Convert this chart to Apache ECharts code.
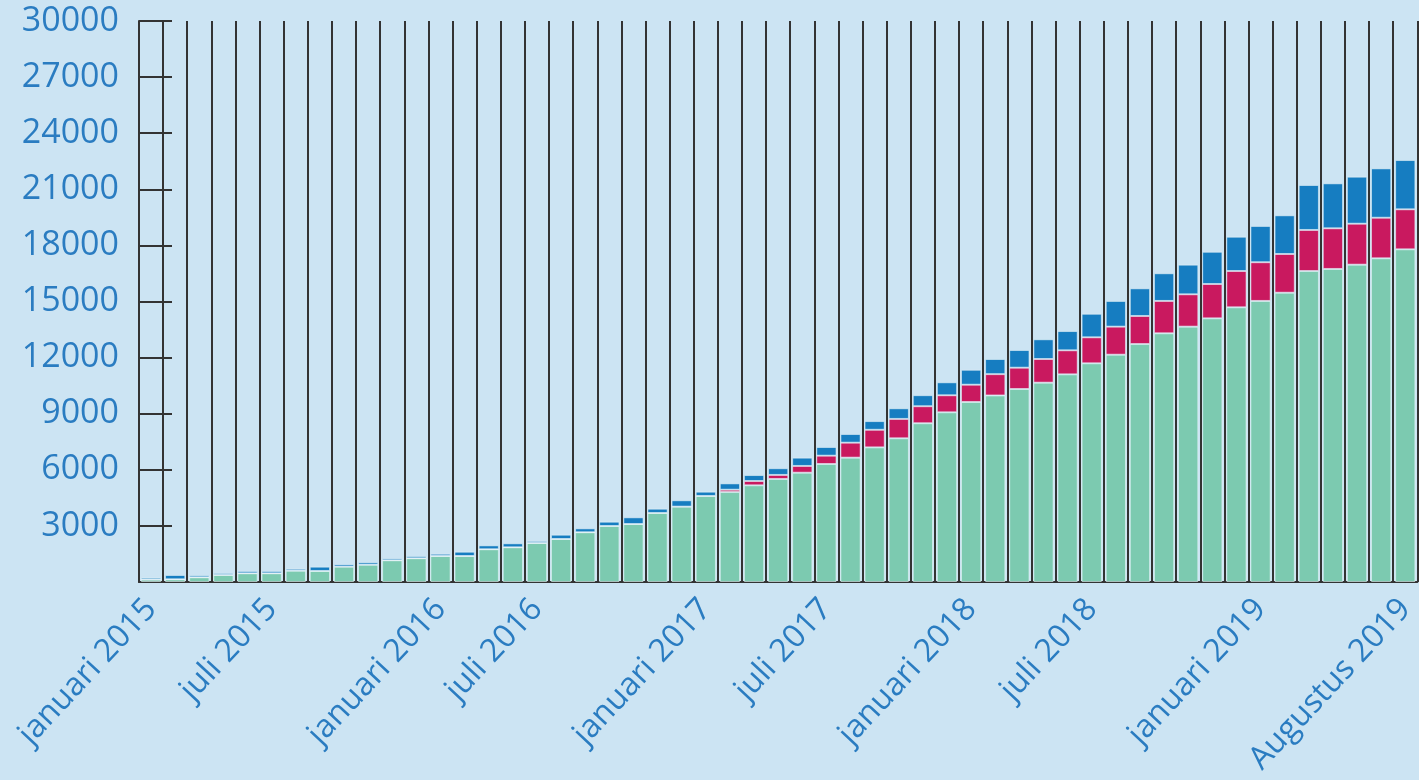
<!DOCTYPE html>
<html>
<head>
<meta charset="utf-8">
<script src="https://cdn.jsdelivr.net/npm/echarts@6/dist/echarts.min.js"></script>
<style>
  html, body { margin: 0; padding: 0; background: #cce4f3; }
  #chart { width: 1419px; height: 780px; }
</style>
</head>
<body>
<div id="chart"></div>
<script>
// 53 monthly bars (januari 2015 ... Augustus 2019)
const categories = ['1','2','3','4','5','6','7','8','9','10','11','12','13','14','15','16','17','18','19','20',
  '21','22','23','24','25','26','27','28','29','30','31','32','33','34','35','36','37','38','39','40',
  '41','42','43','44','45','46','47','48','49','50','51','52','53'];

// tick labels shown on the category axis
const tickIndex = [0, 5, 12, 16, 23, 28, 34, 39, 46, 52];
const tickText = ['januari 2015', 'juli 2015', 'januari 2016', 'juli 2016', 'januari 2017',
  'juli 2017', 'januari 2018', 'juli 2018', 'januari 2019', 'Augustus 2019'];

// series values (stacked, bottom to top)
const greenValues = [130, 145, 250, 375, 465, 465, 605, 590, 820, 925,
  1160, 1270, 1390, 1390, 1750, 1855, 2085, 2300, 2660, 2995,
  3100, 3690, 4030, 4600, 4810, 5170, 5510, 5845, 6310, 6650,
  7200, 7685, 8490, 9075, 9625, 9975, 10320, 10660, 11105, 11695,
  12155, 12725, 13300, 13655, 14100, 14690, 15030, 15470, 16630, 16740,
  16970, 17310, 17790];

const magentaValues = [0, 0, 0, 0, 0, 0, 0, 0, 0, 0,
  0, 0, 0, 0, 0, 0, 0, 0, 0, 0,
  0, 0, 0, 0, 125, 230, 215, 360, 445, 800,
  940, 1035, 910, 910, 925, 1140, 1140, 1265, 1285, 1390,
  1500, 1500, 1730, 1730, 1835, 1940, 2070, 2070, 2195, 2175,
  2190, 2170, 2140];

const blueValues = [100, 230, 110, 105, 125, 125, 105, 230, 125, 130,
  105, 120, 120, 230, 210, 215, 110, 230, 210, 230,
  360, 230, 340, 230, 340, 320, 360, 445, 465, 465,
  465, 570, 590, 695, 800, 810, 945, 1055, 1030, 1260,
  1375, 1480, 1480, 1585, 1725, 1835, 1940, 2070, 2405, 2405,
  2515, 2640, 2635];

const labelColor = '#2a7cc1';
const fontFamily = '"Open Sans", "Noto Sans", sans-serif';

const chart = echarts.init(document.getElementById('chart'), null, { renderer: 'canvas' });

const barBorder = { borderColor: 'rgba(235,245,250,0.55)', borderWidth: 1 };

chart.setOption({
  backgroundColor: '#cce4f3',
  animation: false,
  grid: { left: 139, right: 0, top: 21, bottom: 198, containLabel: false },
  xAxis: {
    type: 'category',
    data: categories,
    boundaryGap: true,
    axisLine: { show: true, lineStyle: { color: '#333', width: 2 } },
    axisTick: { show: false },
    splitLine: { show: true, interval: 0, lineStyle: { color: '#333', width: 2 } },
    axisLabel: {
      interval: 0,
      rotate: 47,
      margin: 22,
      color: labelColor,
      fontFamily: fontFamily,
      fontSize: 32,
      formatter: function (v, i) {
        const k = tickIndex.indexOf(i);
        return k >= 0 ? tickText[k] : '';
      }
    }
  },
  yAxis: {
    type: 'value',
    min: 0,
    max: 30000,
    interval: 3000,
    axisLine: { show: true, lineStyle: { color: '#333', width: 2 } },
    axisTick: { show: true, inside: true, length: 33, lineStyle: { color: '#333', width: 2 } },
    splitLine: { show: false },
    axisLabel: {
      margin: 20,
      color: labelColor,
      fontFamily: fontFamily,
      fontSize: 34,
      padding: [10, 0, 0, 0],
      formatter: function (v) { return v === 0 ? '' : String(v); }
    }
  },
  series: [
    {
      name: 'groen', type: 'bar', stack: 'total', data: greenValues,
      barCategoryGap: '16%',
      itemStyle: Object.assign({ color: '#7ccab0' }, barBorder)
    },
    {
      name: 'magenta', type: 'bar', stack: 'total', data: magentaValues,
      itemStyle: Object.assign({ color: '#c9195f' }, barBorder)
    },
    {
      name: 'blauw', type: 'bar', stack: 'total', data: blueValues,
      itemStyle: Object.assign({ color: '#167dc1' }, barBorder)
    }
  ]
});
</script>
</body>
</html>
